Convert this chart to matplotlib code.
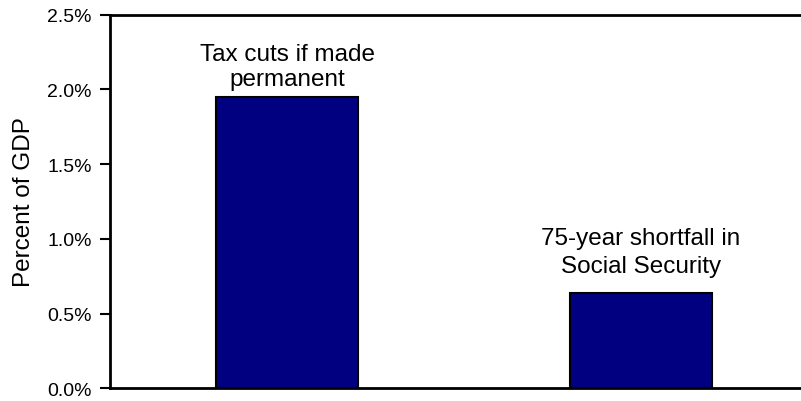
import matplotlib.pyplot as plt
from matplotlib.ticker import FuncFormatter

plt.rcParams['font.family'] = ['Liberation Sans', 'DejaVu Sans']

# bar data (percent of GDP)
labels = ['Tax cuts if made\npermanent', '75-year shortfall in\nSocial Security']
values = [1.95, 0.64]
yticks = [0.0, 0.5, 1.0, 1.5, 2.0, 2.5]

fig = plt.figure(figsize=(8.01, 4.02), dpi=100)
# axes runs past the right edge of the picture, like the original
ax = fig.add_axes([110 / 801, 1 - 389.3 / 402, 708 / 801, 373.6 / 402])

x = range(len(values))
ax.bar(x, values, width=0.4, color='#000080', edgecolor='black', linewidth=1.5)

offsets = [5, 11]
spacings = [1.15, 1.35]
for xi, v, lab, off, ls in zip(x, values, labels, offsets, spacings):
    ax.annotate(lab, (xi, v), xytext=(0, off), textcoords='offset points',
                ha='center', va='bottom', fontsize=17.5, linespacing=ls)

ax.set_xlim(-0.5, 1.5)
ax.set_ylim(0, 2.5)
ax.set_yticks(yticks)
ax.yaxis.set_major_formatter(FuncFormatter(lambda v, p: f'{v:.1f}%'))
ax.set_xticks([])
ax.tick_params(axis='y', direction='out', length=7, width=1.5, labelsize=14, pad=6)
ax.set_ylabel('Percent of GDP', fontsize=17.5, labelpad=9)

for side in ['left', 'top', 'bottom']:
    ax.spines[side].set_linewidth(2)
ax.spines['right'].set_visible(False)

fig.savefig('out.png', dpi=100)
